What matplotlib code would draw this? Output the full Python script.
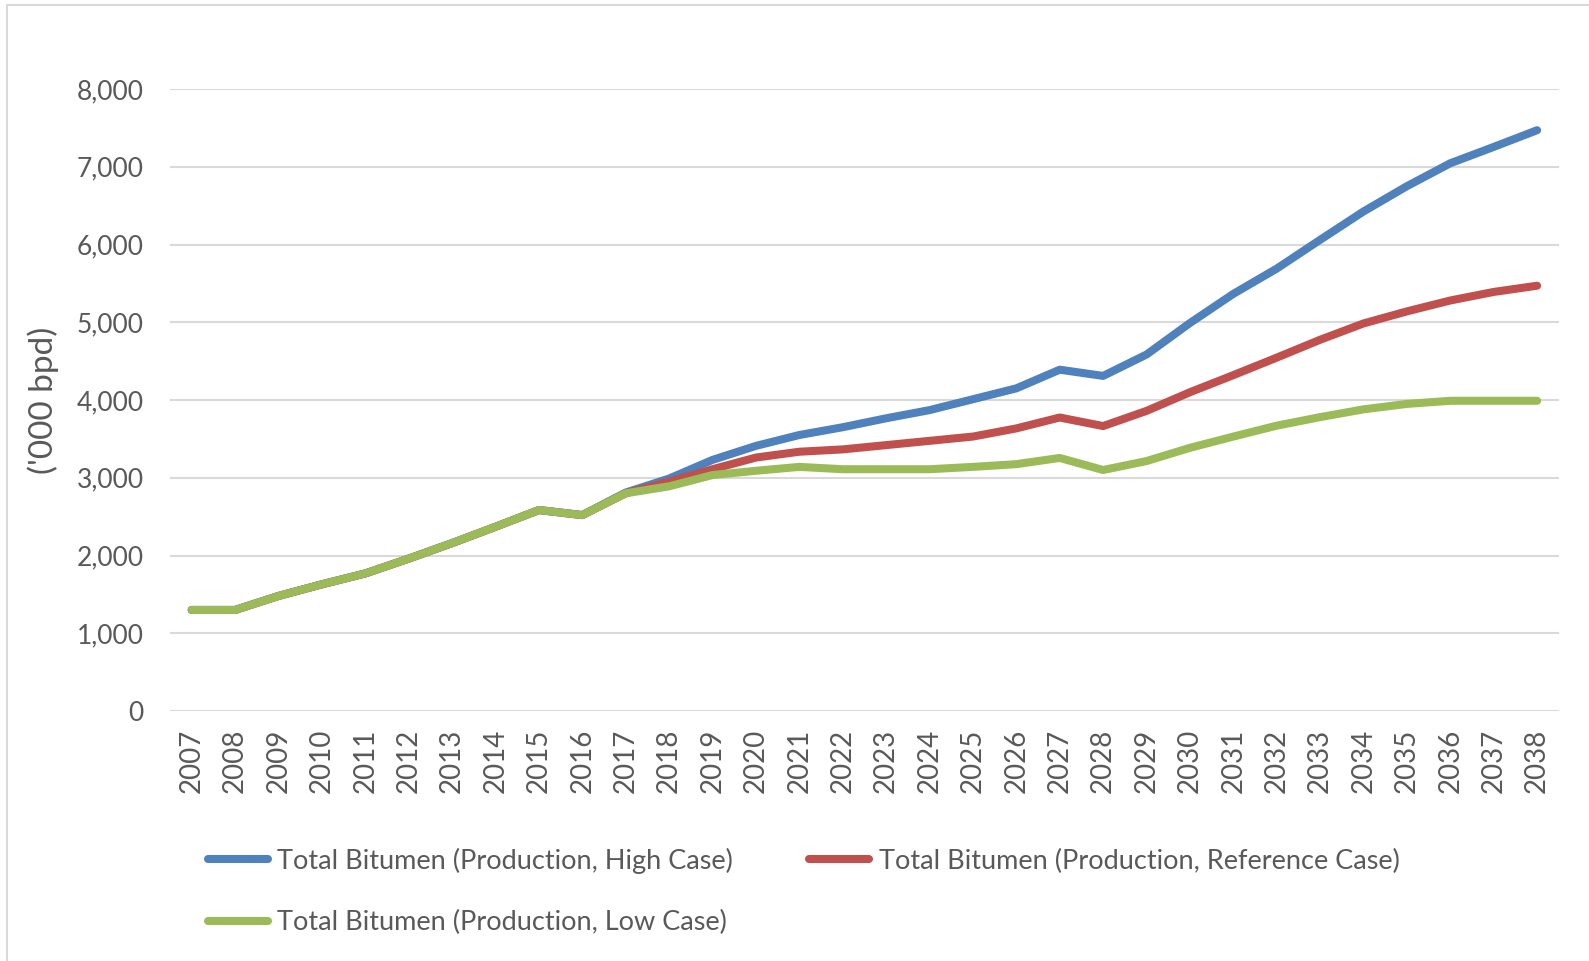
import matplotlib.pyplot as plt
from matplotlib.lines import Line2D
from matplotlib.ticker import FuncFormatter
import numpy as np

plt.rcParams['font.family'] = ['Lato', 'DejaVu Sans']

# Data ('000 bpd)
years = list(range(2007, 2039))
high_case = [1300, 1300, 1480, 1630, 1770, 1960, 2160, 2370, 2585, 2520,
             2810, 2990, 3230, 3410, 3550, 3650, 3765, 3870, 4010, 4150,
             4390, 4310, 4585, 4990, 5365, 5690, 6060, 6425, 6750, 7045,
             7255, 7470]
reference_case = [1300, 1300, 1480, 1630, 1770, 1960, 2160, 2370, 2585, 2520,
                  2800, 2950, 3110, 3260, 3335, 3365, 3420, 3475, 3530, 3635,
                  3775, 3665, 3860, 4100, 4320, 4545, 4775, 4985, 5140, 5280,
                  5390, 5470]
low_case = [1300, 1300, 1480, 1630, 1770, 1960, 2160, 2370, 2585, 2520,
            2800, 2890, 3035, 3090, 3140, 3110, 3110, 3110, 3140, 3175,
            3255, 3100, 3215, 3385, 3530, 3670, 3780, 3880, 3950, 3990,
            3990, 3990]

series = [
    ('Total Bitumen (Production, High Case)', high_case, '#4F81BD'),
    ('Total Bitumen (Production, Reference Case)', reference_case, '#C0504D'),
    ('Total Bitumen (Production, Low Case)', low_case, '#9BBB59'),
]

text_color = '#595959'
grid_color = '#D9D9D9'

fig = plt.figure(figsize=(15.89, 9.61), dpi=100)
ax = fig.add_axes([0.107, 0.2601, 0.874, 0.6473])

x = np.arange(len(years))
for label, values, color in series:
    ax.plot(x, values, color=color, lw=5.8, label=label,
            solid_capstyle='round', solid_joinstyle='round')

ax.set_xlim(-0.5, len(years) - 0.5)
ax.set_ylim(0, 8000)
ax.set_yticks(np.arange(0, 8001, 1000))
ax.yaxis.set_major_formatter(FuncFormatter(lambda v, p: f'{int(v):,}'))
ax.set_xticks(x)
ax.set_xticklabels([str(y) for y in years], rotation=90)

ax.grid(axis='y', color=grid_color, lw=1.5)
ax.set_axisbelow(True)
for s in ax.spines.values():
    s.set_visible(False)
ax.tick_params(length=0, labelsize=19, colors=text_color)
ax.tick_params(axis='y', pad=19)
ax.tick_params(axis='x', pad=13, labelsize=20)

ax.set_ylabel("('000 bpd)", fontsize=24, color=text_color)
ax.yaxis.set_label_coords(-0.080, 0.5)

# legend: matplotlib fills columns first, so order High, Low | Reference
handles = [Line2D([], [], color=c, lw=5.8, solid_capstyle='round') for _, _, c in series]
labels = [l for l, _, _ in series]
order = [0, 2, 1]
leg = fig.legend([handles[i] for i in order], [labels[i] for i in order],
                 ncol=2, loc='upper left', bbox_to_anchor=(0.131, 0.118),
                 frameon=False, fontsize=19.5, handlelength=2.2,
                 handletextpad=0.36, columnspacing=2.8, labelspacing=1.35,
                 borderaxespad=0, borderpad=0)
for t in leg.get_texts():
    t.set_color(text_color)

# chart area border along the left and top edges
fig.add_artist(plt.Rectangle((7 / 1589, -0.1), 1.2, 1 - 5 / 961 + 0.1,
                             transform=fig.transFigure, fill=False,
                             edgecolor=grid_color, lw=1.5))

fig.savefig('out.png', dpi=100)
